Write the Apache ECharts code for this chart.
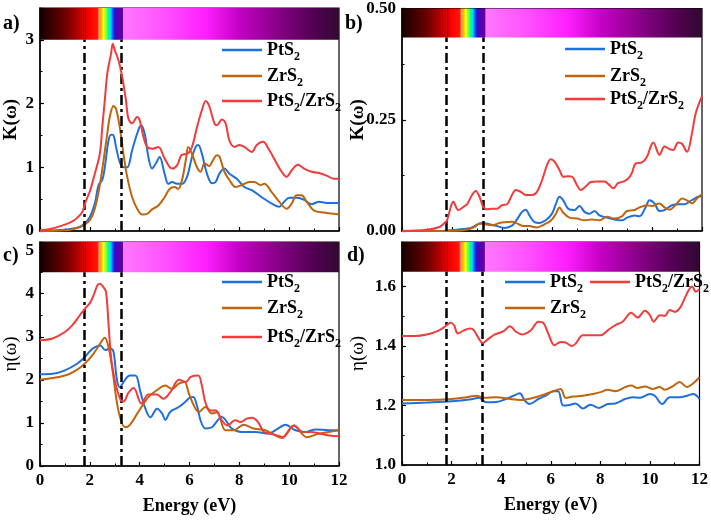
<!DOCTYPE html>
<html>
<head>
<meta charset="utf-8">
<script src="https://cdn.jsdelivr.net/npm/echarts@6/dist/echarts.min.js"></script>
<style>
html,body{margin:0;padding:0;background:#fff;}
#chart{width:711px;height:520px;}
</style>
</head>
<body>
<div id="chart"></div>
<script>
// ---------- data ----------
const names = ['PtS2', 'ZrS2', 'PtS2/ZrS2'];
const colors = ['#1f6fdc', '#c0650d', '#f23b3b'];
const xTicks = [0, 2, 4, 6, 8, 10, 12];
const bandEdges = [1.77, 3.25];

// (a) extinction coefficient K(w)
const aPtS2 = [[0,0],[1,0.02],[1.5,0.05],[1.75,0.1],[2.0,0.22],[2.2,0.43],[2.35,0.72],[2.5,0.8],[2.6,1.0],[2.75,1.42],[2.85,1.51],[2.95,1.5],[3.05,1.32],[3.2,1.08],[3.35,1.0],[3.5,1.0],[3.7,1.27],[3.9,1.53],[4.05,1.66],[4.2,1.53],[4.35,1.16],[4.5,0.98],[4.65,1.06],[4.8,1.16],[5.0,0.9],[5.15,0.74],[5.3,0.77],[5.5,0.74],[5.7,0.74],[5.9,0.85],[6.1,1.16],[6.25,1.32],[6.35,1.35],[6.5,1.21],[6.7,0.9],[6.9,0.75],[7.05,0.77],[7.2,0.9],[7.4,0.98],[7.6,0.9],[7.9,0.82],[8.2,0.69],[8.5,0.64],[8.9,0.53],[9.3,0.43],[9.6,0.38],[9.8,0.46],[10.0,0.52],[10.3,0.52],[10.6,0.49],[10.9,0.42],[11.2,0.46],[11.5,0.44],[11.8,0.44],[12,0.44]];
const aZrS2 = [[0,0],[1,0.01],[1.5,0.05],[1.75,0.09],[2.0,0.17],[2.2,0.35],[2.4,0.72],[2.55,1.11],[2.7,1.53],[2.8,1.79],[2.95,1.96],[3.05,1.92],[3.2,1.63],[3.35,1.21],[3.5,0.85],[3.7,0.53],[3.9,0.35],[4.1,0.26],[4.3,0.27],[4.5,0.34],[4.75,0.4],[5.0,0.53],[5.2,0.66],[5.4,0.69],[5.55,0.66],[5.7,0.8],[5.85,1.11],[5.95,1.32],[6.1,1.21],[6.3,1.0],[6.45,0.93],[6.6,1.06],[6.8,1.02],[6.9,1.08],[7.1,1.19],[7.2,1.17],[7.4,0.93],[7.6,0.8],[7.85,0.69],[8.1,0.72],[8.4,0.77],[8.6,0.77],[8.85,0.72],[9.0,0.74],[9.3,0.61],[9.6,0.46],[9.9,0.35],[10.1,0.43],[10.3,0.56],[10.5,0.56],[10.7,0.46],[11.0,0.32],[11.4,0.29],[11.8,0.27],[12,0.26]];
const aHetero = [[0,0.01],[0.5,0.04],[1.0,0.1],[1.3,0.15],[1.5,0.21],[1.7,0.3],[1.85,0.48],[2.0,0.62],[2.2,0.9],[2.4,1.21],[2.5,1.63],[2.6,2.05],[2.7,2.47],[2.85,2.78],[2.92,2.94],[3.0,2.84],[3.15,2.68],[3.3,2.42],[3.45,2.05],[3.55,1.76],[3.7,1.69],[3.9,1.79],[4.0,1.74],[4.15,1.48],[4.3,1.32],[4.5,1.29],[4.75,1.32],[5.0,1.14],[5.3,0.98],[5.5,1.03],[5.7,1.2],[5.9,1.21],[6.1,1.32],[6.3,1.63],[6.5,1.9],[6.65,2.04],[6.8,1.95],[7.0,1.69],[7.1,1.66],[7.3,1.75],[7.45,1.69],[7.6,1.42],[7.8,1.32],[8.0,1.35],[8.2,1.32],[8.5,1.24],[8.7,1.35],[8.95,1.4],[9.2,1.27],[9.5,1.06],[9.7,0.93],[9.9,0.85],[10.1,0.95],[10.35,1.04],[10.6,0.98],[10.9,0.93],[11.2,0.91],[11.5,0.87],[11.8,0.82],[12,0.82]];

// (b) extinction coefficient K(w), out-of-plane
const bPtS2 = [[0,0],[1.5,0],[1.8,0.001],[2.2,0.003],[2.7,0.006],[3.0,0.014],[3.2,0.018],[3.5,0.015],[3.8,0.011],[4.1,0.007],[4.4,0.012],[4.6,0.026],[4.8,0.043],[4.95,0.048],[5.1,0.035],[5.3,0.02],[5.5,0.018],[5.75,0.024],[6.0,0.039],[6.15,0.06],[6.3,0.077],[6.45,0.069],[6.65,0.05],[6.9,0.047],[7.1,0.056],[7.3,0.043],[7.5,0.039],[7.7,0.045],[7.9,0.035],[8.2,0.03],[8.5,0.026],[8.8,0.024],[9.0,0.03],[9.3,0.035],[9.5,0.033],[9.75,0.054],[9.9,0.069],[10.1,0.062],[10.3,0.045],[10.5,0.047],[10.8,0.058],[11.1,0.06],[11.3,0.06],[11.5,0.066],[11.7,0.073],[11.9,0.078],[12,0.077]];
const bZrS2 = [[0,0],[1.8,0],[2.5,0.002],[2.9,0.009],[3.1,0.017],[3.3,0.015],[3.6,0.013],[3.9,0.018],[4.2,0.02],[4.4,0.021],[4.6,0.017],[4.8,0.012],[5.1,0.011],[5.4,0.008],[5.7,0.015],[5.95,0.023],[6.15,0.038],[6.3,0.053],[6.45,0.041],[6.7,0.03],[7.0,0.028],[7.3,0.024],[7.6,0.026],[7.9,0.024],[8.2,0.032],[8.5,0.028],[8.8,0.033],[9.0,0.045],[9.3,0.047],[9.5,0.053],[9.8,0.058],[10.0,0.056],[10.3,0.062],[10.5,0.053],[10.7,0.048],[11.0,0.062],[11.2,0.073],[11.4,0.069],[11.6,0.062],[11.8,0.073],[12,0.083]];
const bHetero = [[0,0],[1,0.003],[1.5,0.009],[1.7,0.018],[1.8,0.024],[1.95,0.054],[2.05,0.066],[2.25,0.047],[2.45,0.054],[2.6,0.06],[2.8,0.081],[2.95,0.09],[3.1,0.077],[3.25,0.054],[3.4,0.049],[3.6,0.05],[3.8,0.05],[4.0,0.058],[4.2,0.06],[4.4,0.081],[4.55,0.092],[4.75,0.088],[4.95,0.081],[5.2,0.081],[5.4,0.088],[5.6,0.114],[5.8,0.148],[5.95,0.161],[6.1,0.156],[6.3,0.137],[6.45,0.122],[6.65,0.123],[6.8,0.122],[7.0,0.103],[7.15,0.092],[7.35,0.1],[7.55,0.11],[7.8,0.111],[8.1,0.111],[8.3,0.103],[8.45,0.096],[8.65,0.108],[8.85,0.111],[9.05,0.118],[9.2,0.131],[9.35,0.152],[9.6,0.154],[9.8,0.167],[9.95,0.19],[10.05,0.199],[10.3,0.171],[10.5,0.19],[10.7,0.184],[10.85,0.182],[11.05,0.199],[11.2,0.196],[11.4,0.178],[11.6,0.22],[11.75,0.265],[12,0.303]];

// (c) refractive index n(w)
const cPtS2 = [[0,2.13],[0.5,2.14],[1.0,2.22],[1.5,2.38],[1.8,2.53],[2.1,2.72],[2.42,2.8],[2.62,2.69],[2.82,2.73],[2.95,2.65],[3.08,2.03],[3.2,1.83],[3.4,1.99],[3.6,2.1],[3.83,2.1],[4.03,1.72],[4.23,1.33],[4.43,1.13],[4.7,1.33],[4.9,1.22],[5.03,1.07],[5.23,1.26],[5.57,1.37],[5.83,1.49],[6.0,1.58],[6.15,1.6],[6.3,1.4],[6.45,1.05],[6.64,0.87],[6.9,0.9],[7.3,1.14],[7.7,0.87],[8.1,0.79],[8.64,0.79],[9.17,0.75],[9.5,0.85],[9.85,0.96],[10.25,0.83],[10.65,0.79],[11.05,0.85],[11.6,0.83],[12,0.83]];
const cZrS2 = [[0,2.0],[1.0,2.1],[1.5,2.24],[1.8,2.38],[2.1,2.57],[2.35,2.78],[2.6,2.98],[2.75,2.76],[2.9,2.26],[3.16,1.25],[3.42,0.9],[3.6,0.95],[3.94,1.25],[4.35,1.6],[4.69,1.76],[5.03,1.87],[5.3,1.79],[5.57,1.91],[5.8,1.95],[5.97,1.69],[6.17,1.41],[6.37,1.25],[6.64,1.37],[6.9,1.22],[7.1,1.25],[7.44,0.83],[7.77,0.83],[8.17,0.96],[8.57,0.87],[9.04,0.83],[9.44,0.71],[9.71,0.65],[10.18,0.94],[10.71,0.67],[11.18,0.75],[11.58,0.79],[12,0.83]];
const cHetero = [[0,2.92],[0.5,2.96],[1.0,3.11],[1.3,3.27],[1.6,3.5],[1.8,3.65],[2.0,3.78],[2.15,3.96],[2.3,4.19],[2.4,4.23],[2.55,4.15],[2.65,4.04],[2.75,3.3],[2.85,2.53],[2.95,2.14],[3.1,1.76],[3.25,1.52],[3.36,1.5],[3.55,1.7],[3.76,1.81],[4.07,1.45],[4.35,1.66],[4.69,1.66],[4.95,1.56],[5.24,1.72],[5.58,2.0],[5.85,1.95],[6.05,2.07],[6.35,2.1],[6.48,1.91],[6.65,1.45],[6.85,1.29],[7.05,1.29],[7.3,1.06],[7.52,0.94],[7.83,1.06],[8.05,1.02],[8.3,1.1],[8.52,1.12],[8.75,1.02],[8.99,0.79],[9.26,0.75],[9.58,0.7],[9.75,0.67],[9.95,0.79],[10.2,0.94],[10.55,0.79],[10.86,0.79],[11.26,0.75],[11.6,0.71],[12,0.69]];

// (d) refractive index n(w), out-of-plane
const dPtS2 = [[0,1.207],[1,1.21],[2,1.214],[2.8,1.221],[3.1,1.226],[3.4,1.211],[3.8,1.212],[4.2,1.222],[4.5,1.233],[4.75,1.241],[4.95,1.217],[5.15,1.205],[5.5,1.222],[5.8,1.233],[6.1,1.248],[6.3,1.248],[6.5,1.2],[6.75,1.202],[7.0,1.207],[7.3,1.19],[7.6,1.203],[7.95,1.192],[8.3,1.205],[8.6,1.207],[9.0,1.222],[9.3,1.228],[9.6,1.226],[10.0,1.239],[10.2,1.233],[10.5,1.205],[10.8,1.228],[11.2,1.228],[11.5,1.233],[11.75,1.239],[12,1.222]];
const dZrS2 = [[0,1.219],[1,1.219],[2,1.222],[2.6,1.228],[3.0,1.233],[3.3,1.226],[3.8,1.228],[4.3,1.223],[4.8,1.219],[5.3,1.226],[5.8,1.239],[6.1,1.248],[6.4,1.256],[6.6,1.226],[6.9,1.23],[7.3,1.233],[7.7,1.239],[8.0,1.245],[8.3,1.253],[8.6,1.248],[9.0,1.262],[9.25,1.267],[9.5,1.259],[9.8,1.264],[10.1,1.256],[10.4,1.262],[10.6,1.253],[10.9,1.264],[11.2,1.279],[11.5,1.262],[11.75,1.275],[12,1.295]];
const dHetero = [[0,1.434],[0.5,1.434],[1,1.439],[1.5,1.453],[1.8,1.47],[1.95,1.478],[2.1,1.47],[2.25,1.442],[2.5,1.453],[2.75,1.459],[2.9,1.453],[3.1,1.425],[3.25,1.41],[3.5,1.425],[3.75,1.439],[4.1,1.45],[4.35,1.467],[4.6,1.448],[4.85,1.439],[5.2,1.453],[5.5,1.482],[5.7,1.478],[5.9,1.442],[6.15,1.403],[6.4,1.414],[6.6,1.412],[6.85,1.4],[7.0,1.408],[7.3,1.436],[7.6,1.436],[8.0,1.436],[8.3,1.453],[8.6,1.47],[8.9,1.482],[9.25,1.512],[9.5,1.496],[9.8,1.519],[10.0,1.504],[10.15,1.482],[10.4,1.504],[10.6,1.501],[10.8,1.521],[11.0,1.515],[11.2,1.527],[11.4,1.56],[11.55,1.586],[11.7,1.6],[11.85,1.583],[12,1.59]];

// y ranges [min, spectrum-bar bottom, max], tick interval
const yRangeA = [0, 3, 3.5], yStepA = 1;
const yRangeB = [0, 0.435, 0.5], yStepB = 0.25;
const yRangeC = [0, 4.5, 5.2], yStepC = 1;
const yRangeD = [1.0, 1.65, 1.75], yStepD = 0.2;

// ---------- chart ----------
const FONT = 'Liberation Serif';
const chart = echarts.init(document.getElementById('chart'), null, {renderer: 'canvas'});

const spectrum = new echarts.graphic.LinearGradient(0, 0, 1, 0, [
  {offset: 0, color: '#160000'},
  {offset: 0.0833, color: '#6a0000'},
  {offset: 0.125, color: '#b00000'},
  {offset: 0.150, color: '#e00000'},
  {offset: 0.1515, color: '#6a0000'},
  {offset: 0.1555, color: '#e80000'},
  {offset: 0.166, color: '#ff0000'},
  {offset: 0.192, color: '#ff1808'},
  {offset: 0.198, color: '#ffa070'},
  {offset: 0.204, color: '#ffb000'},
  {offset: 0.2125, color: '#ffff00'},
  {offset: 0.221, color: '#80ff40'},
  {offset: 0.229, color: '#00ff90'},
  {offset: 0.236, color: '#00d8ff'},
  {offset: 0.243, color: '#0060ff'},
  {offset: 0.250, color: '#3010d0'},
  {offset: 0.258, color: '#5000b0'},
  {offset: 0.2770, color: '#6000a0'},
  {offset: 0.2790, color: '#ff78ff'},
  {offset: 0.42, color: '#ff50ff'},
  {offset: 0.55, color: '#ff20ff'},
  {offset: 0.667, color: '#c400c4'},
  {offset: 0.79, color: '#8a008a'},
  {offset: 0.917, color: '#520052'},
  {offset: 1, color: '#300a30'}
]);

const grids = [
  {left: 40, top: 8, width: 299, height: 223},
  {left: 402, top: 8, width: 300, height: 223},
  {left: 40, top: 242, width: 299, height: 224},
  {left: 402, top: 242, width: 300, height: 223}
].map(g => Object.assign({show: true, borderColor: '#000', borderWidth: 1.2, backgroundColor: 'transparent'}, g));

const axisLineStyle = {lineStyle: {color: '#000', width: 1.5}};
function xAxis(i, showLabels) {
  return {
    type: 'value', gridIndex: i, min: 0, max: 12, interval: 2,
    axisLine: axisLineStyle,
    axisTick: {inside: true, length: 4, lineStyle: {color: '#000', width: 1.2}},
    minorTick: {show: true, splitNumber: 2, length: 2.5, lineStyle: {color: '#000', width: 1}},
    splitLine: {show: false},
    axisLabel: {show: showLabels, color: '#000', fontFamily: FONT, fontWeight: 'bold', fontSize: 17, margin: 6},
    name: showLabels ? 'Energy (eV)' : '', nameLocation: 'middle', nameGap: 31, nameMoveOverlap: false,
    nameTextStyle: {color: '#000', fontFamily: FONT, fontWeight: 'bold', fontSize: 18}
  };
}
function yAxis(i, range, step, digits, name, gap, bold) {
  return {
    type: 'value', gridIndex: i, min: range[0], max: range[2], interval: step,
    axisLine: axisLineStyle,
    axisTick: {inside: true, length: 4, lineStyle: {color: '#000', width: 1.2}},
    minorTick: {show: true, splitNumber: 2, length: 2.5, lineStyle: {color: '#000', width: 1}},
    splitLine: {show: false},
    axisLabel: {
      color: '#000', fontFamily: FONT, fontWeight: 'bold', fontSize: 17, margin: 6,
      formatter: v => {
        const k = (v - range[0]) / step;
        return Math.abs(k - Math.round(k)) < 1e-6 ? v.toFixed(digits) : '';
      }
    },
    name: name, nameLocation: 'middle', nameGap: gap, nameMoveOverlap: false,
    nameTextStyle: {color: '#000', fontFamily: FONT, fontWeight: bold ? 'bold' : 'normal', fontSize: 19}
  };
}

const panels = [
  {data: [aPtS2, aZrS2, aHetero], range: yRangeA},
  {data: [bPtS2, bZrS2, bHetero], range: yRangeB},
  {data: [cPtS2, cZrS2, cHetero], range: yRangeC},
  {data: [dPtS2, dZrS2, dHetero], range: yRangeD}
];

const series = [];
panels.forEach((p, gi) => {
  p.data.forEach((d, si) => {
    const s = {
      type: 'line', name: names[si], xAxisIndex: gi, yAxisIndex: gi,
      data: d, smooth: 0.35, symbol: 'none', showSymbol: false,
      lineStyle: {color: colors[si], width: 2}, itemStyle: {color: colors[si]},
      z: 3 + si, silent: true, animation: false
    };
    if (si === 2) {
      s.markArea = {
        silent: true, z: 1,
        itemStyle: {color: spectrum, borderWidth: 0},
        data: [[{xAxis: 0, yAxis: p.range[1]}, {xAxis: 12, yAxis: p.range[2]}]]
      };
      s.markLine = {
        silent: true, symbol: 'none', label: {show: false},
        lineStyle: {color: '#000', width: 2.5, type: [10, 4, 3, 4]},
        data: bandEdges.map(e => [{coord: [e, p.range[0]]}, {coord: [e, p.range[1]]}])
      };
    }
    series.push(s);
  });
});

const subRich = {s: {fontSize: 12, fontWeight: 'bold', fontFamily: FONT, color: '#000', verticalAlign: 'bottom', lineHeight: 26}};
function legend(name, left, cy) {
  return {
    data: [name], left: left, top: cy - 13, itemWidth: 40, itemHeight: 2.5, itemGap: 4,
    icon: 'rect',
    padding: 0, selectedMode: false,
    formatter: n => n.replace(/2/g, '{s|2}'),
    textStyle: {color: '#000', fontFamily: FONT, fontWeight: 'bold', fontSize: 18, lineHeight: 26, rich: subRich}
  };
}

const legends = [
  legend('PtS2', 222, 50), legend('ZrS2', 222, 76), legend('PtS2/ZrS2', 222, 101),
  legend('PtS2', 565, 49), legend('ZrS2', 565, 76), legend('PtS2/ZrS2', 565, 99),
  legend('PtS2', 222, 282), legend('ZrS2', 222, 308), legend('PtS2/ZrS2', 222, 337),
  legend('PtS2', 505, 282), legend('PtS2/ZrS2', 590, 282), legend('ZrS2', 505, 308)
];

const panelLabel = (t, x, y) => ({type: 'text', left: x, top: y, style: {text: t, fill: '#000', font: 'bold 20px "Liberation Serif"'}});

chart.setOption({
  animation: false,
  backgroundColor: '#fff',
  grid: grids,
  xAxis: [xAxis(0, false), xAxis(1, false), xAxis(2, true), xAxis(3, true)],
  yAxis: [
    yAxis(0, yRangeA, yStepA, 0, 'K(ω)', 19, true),
    yAxis(1, yRangeB, yStepB, 2, 'K(ω)', 34, true),
    yAxis(2, yRangeC, yStepC, 0, 'η(ω)', 19, false),
    yAxis(3, yRangeD, yStepD, 1, 'η(ω)', 34, false)
  ],
  legend: legends,
  series: series,
  graphic: [
    panelLabel('a)', 3, 14), panelLabel('b)', 345, 14),
    panelLabel('c)', 3, 246), panelLabel('d)', 347, 246)
  ]
});
</script>
</body>
</html>
